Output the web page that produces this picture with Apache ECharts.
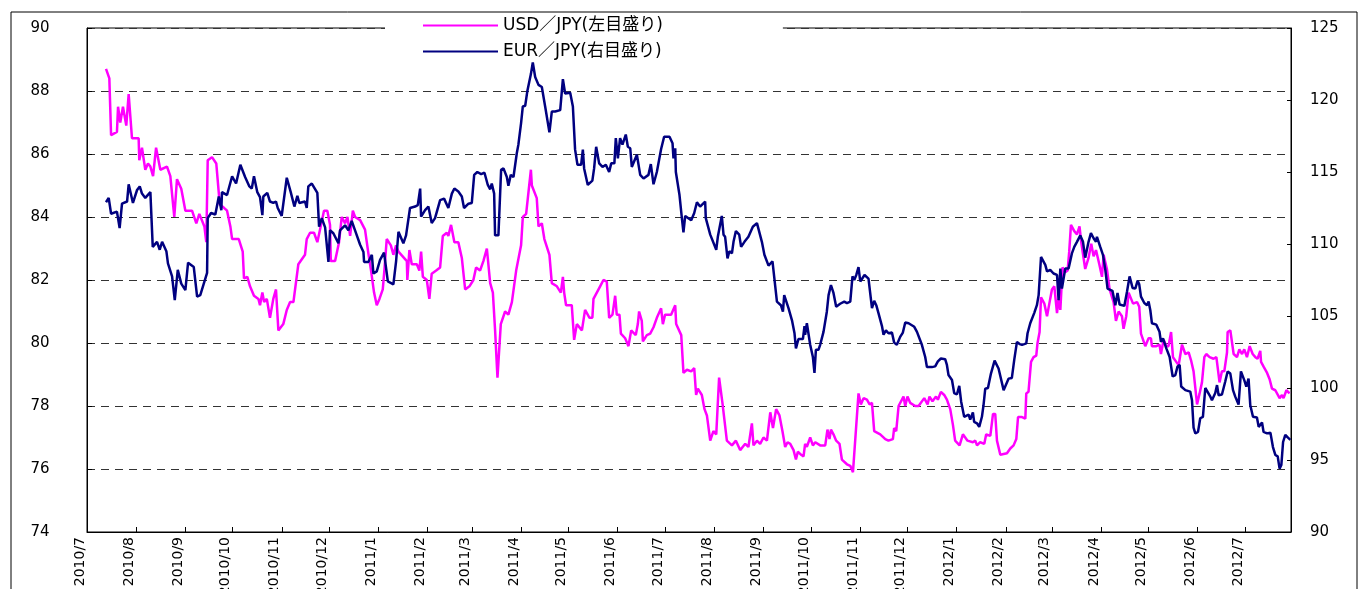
<!DOCTYPE html>
<html>
<head>
<meta charset="utf-8">
<script src="https://cdn.jsdelivr.net/npm/echarts@6/dist/echarts.min.js"></script>
<style>
  html, body { margin: 0; padding: 0; background: #fff; }
  #chart { width: 1359px; height: 589px; }
</style>
</head>
<body>
<div id="chart"></div>
<script>
// month tick labels on the x axis
const monthLabels = ['2010/7','2010/8','2010/9','2010/10','2010/11','2010/12',
  '2011/1','2011/2','2011/3','2011/4','2011/5','2011/6','2011/7','2011/8','2011/9','2011/10','2011/11','2011/12',
  '2012/1','2012/2','2012/3','2012/4','2012/5','2012/6','2012/7'];

// [days since 2010/7/1, rate]
const usdJpy = [
  [12.0,88.7],[14.1,88.4],[15.2,86.6],[18.9,86.7],[19.6,87.5],[21.0,87.0],[22.7,87.5],[24.8,86.9],[26.3,87.9],[28.4,86.5],
  [32.6,86.5],[33.0,85.8],[34.7,86.2],[36.8,85.5],[38.5,85.7],[40.0,85.6],[41.7,85.3],[43.6,86.2],[46.3,85.5],[50.5,85.6],
  [52.6,85.3],[55.1,84.0],[56.8,85.2],[59.5,84.9],[62.1,84.2],[66.3,84.2],[69.0,83.8],[70.9,84.1],[74.1,83.7],[75.3,83.2],
  [76.2,85.8],[78.9,85.9],[81.6,85.7],[83.8,84.4],[86.3,84.3],[88.4,84.2],[90.5,83.7],[91.6,83.3],[95.8,83.3],[98.3,82.9],
  [99.1,82.05],[101.2,82.1],[102.9,81.8],[105.4,81.5],[108.2,81.4],[109.2,81.2],[110.7,81.6],[111.8,81.3],[113.5,81.4],[115.5,80.8],
  [117.6,81.4],[119.3,81.7],[120.8,80.4],[123.9,80.6],[126.1,81.05],[128.2,81.3],[130.3,81.3],[133.4,82.5],[137.6,82.8],[138.7,83.3],
  [140.8,83.5],[143.3,83.5],[145.4,83.2],[147.1,83.6],[149.6,84.2],[151.7,84.2],[153.4,83.75],[153.9,82.6],[156.6,82.6],[159.1,83.2],
  [160.8,84.0],[162.9,83.8],[164.4,84.0],[166.1,83.4],[167.8,84.2],[169.2,84.0],[172.4,83.9],[175.5,83.6],[177.6,82.85],[179.3,82.3],
  [181.2,81.6],[182.9,81.2],[184.6,81.4],[186.7,81.7],[187.7,82.3],[189.2,83.3],[191.8,83.1],[193.4,82.8],[195.1,83.1],[196.6,82.9],
  [201.9,82.6],[202.2,82.0],[203.5,82.95],[205.0,82.5],[208.2,82.5],[209.8,82.3],[210.9,82.9],[212.0,82.1],[214.5,82.0],[216.1,81.4],
  [217.6,82.2],[220.4,82.3],[222.9,82.4],[224.6,83.4],[227.1,83.5],[228.1,83.4],[229.8,83.75],[231.9,83.2],[234.4,83.2],[236.6,82.7],
  [238.7,81.7],[241.4,81.8],[243.9,82.0],[245.6,82.4],[248.1,82.3],[250.2,82.6],[252.4,83.0],[254.5,81.9],[256.2,81.6],[257.6,80.4],
  [259.1,78.9],[261.2,80.6],[263.9,81.0],[266.0,80.9],[268.2,81.3],[270.9,82.3],[274.0,83.1],[275.1,84.0],[277.2,84.1],[280.2,85.5],
  [280.8,85.0],[283.9,84.6],[285.0,83.7],[287.1,83.8],[288.7,83.3],[291.9,82.8],[293.4,81.9],[296.6,81.8],[299.1,81.6],[300.4,82.1],
  [301.2,81.6],[302.4,81.2],[306.0,81.2],[307.5,80.1],[309.2,80.6],[312.4,80.4],[314.4,81.05],[317.2,80.8],[319.0,80.8],[319.7,81.4],
  [321.8,81.6],[323.9,81.8],[326.0,82.0],[328.1,81.95],[329.6,80.8],[331.7,80.9],[333.4,81.5],[334.4,80.9],[336.1,80.9],[337.0,80.3],
  [339.7,80.15],[341.8,79.9],[343.5,80.4],[346.4,80.25],[347.7,80.6],[348.5,81.0],[350.2,80.7],[350.9,80.05],[353.4,80.25],[355.5,80.3],
  [357.6,80.5],[359.7,80.8],[362.4,81.1],[363.5,80.6],[364.9,80.9],[368.7,80.9],[371.3,81.2],[371.9,80.6],[375.1,80.25],[376.5,79.05],
  [378.7,79.15],[381.4,79.1],[383.3,79.2],[384.5,78.35],[385.6,78.55],[388.1,78.35],[389.8,77.9],[391.3,77.7],[393.4,76.9],[395.4,77.2],
  [397.2,77.1],[399.0,78.9],[401.1,78.1],[403.9,76.9],[407.1,76.75],[409.6,76.9],[412.3,76.6],[415.5,76.8],[417.5,76.7],[419.7,77.45],
  [420.7,76.75],[422.9,76.9],[424.9,76.8],[427.0,77.0],[429.2,76.9],[431.3,77.8],[433.0,77.3],[435.0,77.9],[437.1,77.7],[439.0,77.2],
  [440.7,76.7],[442.2,76.85],[443.9,76.8],[446.0,76.6],[447.5,76.3],[448.7,76.55],[450.8,76.45],[452.3,76.4],[453.3,76.8],[454.4,76.7],
  [456.5,77.0],[458.2,76.75],[459.7,76.85],[462.8,76.75],[466.0,76.75],[467.4,77.25],[468.7,76.95],[469.6,77.25],[471.2,77.1],[472.9,76.9],
  [475.0,76.8],[476.5,76.3],[479.7,76.15],[481.8,76.1],[483.5,75.9],[487.0,78.4],[488.5,78.05],[490.2,78.25],[492.3,78.2],[494.0,78.05],
  [495.5,78.1],[496.9,77.2],[500.7,77.1],[503.9,76.95],[505.9,76.9],[508.7,76.95],[509.5,77.3],[510.8,77.2],[512.3,78.0],[515.4,78.3],
  [516.5,78.0],[517.9,78.3],[519.6,78.1],[522.8,78.0],[524.9,78.0],[528.5,78.25],[530.6,78.05],[531.8,78.3],[533.7,78.15],[535.9,78.3],
  [537.1,78.2],[539.0,78.45],[541.1,78.35],[542.8,78.2],[544.9,77.9],[546.6,77.4],[548.0,76.9],[550.8,76.75],[552.9,77.1],[555.8,76.9],
  [559.2,76.85],[560.7,76.9],[561.8,76.75],[563.8,76.85],[566.4,76.8],[567.6,77.1],[570.2,77.05],[571.9,77.75],[573.3,77.75],[574.4,76.9],
  [576.5,76.45],[580.7,76.5],[582.8,76.65],[584.9,76.75],[586.6,76.95],[587.7,77.65],[590.2,77.65],[592.3,77.6],[592.9,78.4],[594.3,78.45],
  [595.9,79.4],[597.5,79.55],[599.2,79.6],[600.0,80.0],[601.3,80.35],[602.2,81.45],[604.3,81.25],[606.0,80.85],[608.0,81.4],[609.1,81.7],
  [610.6,81.8],[612.3,80.95],[613.3,81.4],[614.4,81.05],[615.8,82.4],[617.5,82.25],[619.0,82.3],[620.0,82.9],[621.1,83.75],[623.2,83.55],
  [624.9,83.45],[626.5,83.7],[627.6,83.2],[630.1,82.35],[632.2,82.7],[633.9,83.15],[635.4,82.75],[636.9,82.95],[639.0,82.5],[640.7,82.1],
  [641.7,82.8],[643.8,82.35],[645.5,81.7],[648.0,81.3],[649.5,80.7],[651.2,81.0],[653.3,80.85],[654.3,80.45],[656.0,80.85],[657.5,81.6],
  [660.3,81.25],[662.8,81.3],[664.2,81.15],[665.3,80.3],[668.0,79.9],[670.1,80.15],[671.6,80.15],[672.2,79.9],[675.0,79.9],[677.0,79.95],
  [677.9,79.65],[679.6,80.1],[681.3,79.9],[682.7,79.9],[684.3,80.35],[685.5,79.55],[687.6,79.4],[689.1,79.3],[691.2,79.95],[693.3,79.65],
  [695.4,79.7],[696.9,79.45],[698.5,79.1],[700.7,78.05],[702.3,78.4],[703.8,78.75],[705.3,79.55],[706.5,79.65],[708.6,79.55],[711.1,79.5],
  [712.9,79.55],[714.9,78.75],[716.4,79.1],[717.9,79.1],[719.6,79.7],[720.0,80.35],[721.7,80.4],[723.8,79.65],[725.9,79.55],[727.4,79.8],
  [729.1,79.65],[730.5,79.8],[732.2,79.55],[733.9,79.9],[735.8,79.65],[737.5,79.55],[738.9,79.5],[740.6,79.75],[741.1,79.4],[742.7,79.25],
  [744.9,79.05],[746.5,78.85],[748.0,78.55],[750.1,78.5],[752.8,78.25],[754.3,78.35],[755.3,78.25],[757.1,78.5],[759.1,78.4]
];

const eurJpy = [
  [12.0,112.9],[13.7,113.2],[15.2,112.1],[18.9,112.25],[20.6,111.1],[22.1,112.8],[25.3,112.95],[26.3,114.15],[29.0,112.85],[31.6,113.75],
  [33.3,114.0],[34.7,113.5],[36.8,113.2],[40.0,113.6],[41.5,109.8],[44.2,110.15],[45.9,109.6],[47.4,110.15],[50.1,109.5],[51.1,108.65],
  [53.7,107.75],[55.4,106.1],[57.3,108.2],[59.5,107.25],[62.1,106.8],[63.8,108.7],[67.4,108.4],[69.5,106.35],[71.5,106.45],[75.8,108.0],
  [76.2,111.8],[78.3,112.15],[81.0,112.05],[83.2,113.3],[84.8,112.35],[85.2,113.6],[88.4,113.4],[90.1,114.1],[91.6,114.7],[94.1,114.2],
  [96.8,115.5],[99.8,114.65],[102.5,114.0],[104.0,113.85],[105.4,114.7],[107.5,113.6],[109.2,113.25],[110.7,112.0],[111.3,113.3],[113.8,113.55],
  [115.5,112.95],[117.6,112.85],[119.3,112.95],[120.4,112.5],[122.9,111.95],[126.1,114.6],[128.6,113.6],[130.9,112.6],[132.8,113.35],[134.0,112.85],
  [137.6,112.95],[138.7,112.5],[139.7,114.0],[141.9,114.2],[145.4,113.55],[146.5,111.2],[148.2,111.8],[150.3,111.15],[152.4,108.75],[153.4,110.95],
  [155.5,110.75],[158.7,110.05],[159.7,110.95],[162.9,111.3],[165.0,110.95],[167.1,111.6],[169.2,110.95],[172.4,109.95],[174.5,109.45],[174.9,108.75],
  [177.6,108.75],[179.8,109.25],[180.8,107.95],[182.9,108.1],[185.0,108.9],[187.5,109.4],[189.9,107.4],[193.4,107.2],[195.1,108.8],[196.6,110.85],
  [199.7,110.05],[201.4,110.6],[203.9,112.5],[207.1,112.6],[208.8,112.7],[210.3,113.85],[210.9,111.9],[213.4,112.35],[215.5,112.6],[217.6,111.45],
  [219.7,111.8],[222.9,113.05],[225.4,113.15],[228.1,112.5],[230.3,113.5],[231.9,113.85],[234.4,113.65],[236.6,113.3],[238.0,112.5],[240.8,112.8],
  [242.9,112.85],[244.4,114.8],[246.4,115.0],[248.8,114.85],[250.9,114.95],[253.0,114.1],[254.5,113.8],[255.5,114.2],[257.0,113.5],[257.6,110.6],
  [259.7,110.6],[261.4,115.15],[262.9,115.25],[265.0,114.65],[266.0,114.05],[267.5,114.8],[269.2,114.65],[271.3,116.3],[272.3,116.9],[274.0,118.4],
  [275.1,119.55],[276.6,119.6],[278.0,120.65],[280.2,121.8],[281.4,122.6],[282.9,121.6],[285.0,121.05],[287.1,120.9],[289.2,119.55],[291.9,117.75],
  [293.4,119.2],[295.5,119.2],[298.7,119.3],[300.4,121.45],[301.8,120.45],[305.0,120.5],[306.7,119.55],[308.1,116.55],[309.6,115.5],[311.9,115.5],
  [313.0,116.55],[313.8,115.25],[316.1,114.1],[319.0,114.4],[320.1,115.25],[321.4,116.75],[323.3,115.6],[325.4,115.35],[327.5,115.5],[329.6,115.0],
  [330.9,115.6],[332.9,115.6],[333.8,117.35],[335.1,115.95],[336.5,117.35],[338.0,116.9],[340.1,117.6],[341.4,116.75],[342.9,116.65],[343.9,115.35],
  [347.1,116.2],[349.2,114.8],[351.3,114.55],[354.4,114.8],[355.9,115.55],[357.6,114.15],[359.7,115.0],[362.4,116.6],[364.3,117.45],[367.7,117.45],
  [369.6,117.0],[370.2,115.95],[371.3,116.65],[371.7,115.0],[374.0,113.4],[375.5,111.8],[376.5,110.8],[377.6,111.95],[381.4,111.65],[383.3,112.15],
  [385.0,112.9],[387.0,112.6],[390.2,112.95],[390.6,111.8],[393.4,110.65],[397.2,109.6],[398.2,110.5],[400.7,111.95],[401.8,110.65],[402.8,110.5],
  [404.3,109.0],[405.5,109.5],[407.1,109.35],[408.1,110.15],[409.6,110.9],[411.7,110.65],[412.9,109.8],[415.0,110.15],[417.5,110.5],[420.3,111.2],
  [422.9,111.45],[426.0,110.15],[427.6,109.25],[430.2,108.5],[432.7,108.8],[433.8,108.9],[435.5,106.0],[438.0,105.75],[439.3,105.3],[440.1,106.45],
  [442.8,105.55],[445.0,104.7],[446.6,103.8],[447.5,102.75],[449.1,103.4],[451.9,103.4],[452.9,104.3],[453.3,103.7],[454.4,104.5],[456.5,103.0],
  [458.2,102.15],[459.2,101.05],[460.1,102.65],[461.7,102.65],[462.8,103.0],[464.9,103.9],[467.0,105.3],[468.1,106.45],[469.6,107.15],[471.2,106.6],
  [472.9,105.65],[475.4,105.85],[478.0,106.0],[479.7,105.9],[481.8,106.0],[483.2,107.75],[484.3,107.5],[485.6,107.85],[487.0,108.4],[488.1,107.4],
  [490.8,107.85],[493.3,107.6],[495.5,105.55],[496.9,106.05],[498.2,105.75],[499.6,105.2],[501.8,104.3],[502.8,103.7],[504.3,104.0],[505.9,103.8],
  [508.1,103.85],[509.5,103.15],[511.2,103.0],[513.3,103.55],[515.0,103.85],[516.5,104.55],[518.6,104.5],[522.2,104.25],[523.9,103.9],[527.0,103.0],
  [529.1,102.15],[530.2,101.45],[533.3,101.45],[535.4,101.5],[537.1,101.85],[539.0,102.05],[541.7,102.0],[542.8,101.6],[543.8,100.9],[546.0,100.55],
  [547.4,99.65],[549.1,99.55],[550.6,100.15],[551.8,99.05],[553.7,98.0],[556.5,98.15],[557.5,97.8],[559.2,98.3],[560.0,97.65],[561.8,97.55],
  [563.2,97.3],[564.9,98.0],[565.9,98.8],[567.0,99.95],[568.7,100.0],[570.6,101.0],[572.9,101.9],[575.4,101.35],[578.6,99.85],[581.7,100.65],
  [583.8,100.7],[585.3,101.95],[587.0,103.2],[588.7,103.05],[590.2,103.0],[591.6,103.05],[592.9,103.1],[593.7,103.8],[595.4,104.5],[597.9,105.2],
  [599.6,105.75],[600.7,106.45],[602.2,109.1],[604.9,108.55],[606.0,108.1],[608.0,108.2],[610.1,107.95],[612.3,107.85],[613.3,106.1],[614.4,108.3],
  [615.4,106.9],[617.5,108.3],[619.6,108.3],[621.7,109.35],[623.2,109.8],[624.9,110.15],[627.0,110.6],[628.7,110.15],[630.1,109.05],[632.2,110.15],
  [633.7,110.75],[635.4,110.4],[636.9,110.15],[637.5,110.5],[639.6,109.8],[641.3,109.25],[642.8,108.2],[644.2,106.9],[647.3,106.75],[649.1,105.75],
  [650.5,106.6],[651.8,105.8],[654.8,105.7],[656.5,106.7],[658.1,107.75],[660.0,106.95],[661.7,106.9],[663.2,107.45],[664.2,107.2],[665.3,106.35],
  [667.4,105.9],[669.1,105.75],[670.1,106.0],[671.2,105.4],[672.2,104.5],[675.0,104.4],[677.0,103.9],[677.9,103.2],[679.2,103.45],[681.3,102.75],
  [683.4,102.15],[685.3,100.8],[687.0,100.9],[688.4,101.5],[689.7,101.6],[690.7,100.1],[693.3,99.85],[696.4,99.75],[697.5,99.15],[698.5,97.25],
  [699.6,96.85],[701.3,96.95],[702.7,97.9],[704.4,98.0],[705.9,100.0],[707.0,100.1],[709.1,99.4],[710.1,99.15],[712.2,99.65],[713.3,100.2],
  [714.3,99.5],[716.4,99.55],[718.5,100.45],[720.0,101.15],[721.7,101.0],[723.4,99.85],[724.8,99.4],[726.9,98.85],[728.4,101.15],[730.5,100.55],
  [731.8,100.1],[733.2,100.65],[734.3,98.8],[736.0,98.0],[738.5,97.95],[739.6,97.3],[741.7,97.6],[742.7,96.95],[744.9,96.85],[747.0,96.9],
  [748.6,95.9],[750.1,95.35],[751.6,95.25],[752.8,94.4],[753.9,94.65],[755.0,96.25],[756.4,96.75],[758.1,96.55],[759.6,96.4]
];

const seriesNames = ['USD／JPY(左目盛り)', 'EUR／JPY(右目盛り)'];

// x axis runs in days from 2010/7/1; month ticks are placed on the first of each month
const DAY = 86400000;
const start = Date.UTC(2010, 6, 1);
const lastDay = (Date.UTC(2012, 6, 30) - start) / DAY;
const monthTicks = monthLabels.map(s => {
  const [y, m] = s.split('/').map(Number);
  return Math.round((Date.UTC(y, m - 1, 1) - start) / DAY);
});

const chart = echarts.init(document.getElementById('chart'));
const numFont = { color: '#000', fontSize: 15, fontFamily: 'DejaVu Sans' };

chart.setOption({
  animation: false,
  backgroundColor: '#fff',
  graphic: [{
    // outer chart-area frame
    type: 'rect',
    shape: { x: 11, y: 12, width: 1346, height: 620 },
    style: { fill: 'none', stroke: '#000', lineWidth: 1 },
    silent: true
  }],
  legend: {
    orient: 'vertical',
    left: 385,
    top: 14,
    z: 1,
    padding: [3, 120, 0, 38],
    backgroundColor: '#fff',
    icon: 'rect',
    itemWidth: 75,
    itemHeight: 2,
    itemGap: 9,
    selectedMode: false,
    textStyle: { color: '#000', fontSize: 17, fontFamily: 'DejaVu Sans, Noto Sans CJK JP' },
    data: seriesNames
  },
  grid: {
    left: 87, right: 68, top: 28, bottom: 57,
    show: true, borderColor: '#000', borderWidth: 1,
    outerBoundsMode: 'none'
  },
  xAxis: {
    type: 'value',
    min: 0,
    max: lastDay,
    axisLine: { show: true, onZero: false, lineStyle: { color: '#000', width: 1 } },
    axisTick: { show: true, inside: true, length: 5, customValues: monthTicks, lineStyle: { color: '#000' } },
    axisLabel: {
      customValues: monthTicks,
      rotate: 90,
      margin: 5,
      verticalAlign: 'bottom',
      ...numFont,
      fontSize: 14,
      formatter: v => {
        const i = monthTicks.indexOf(Math.round(v));
        return i >= 0 ? monthLabels[i] : '';
      }
    },
    splitLine: { show: false }
  },
  yAxis: [{
    type: 'value',
    min: 74, max: 90, interval: 2,
    axisLine: { show: true, lineStyle: { color: '#000' } },
    axisTick: { show: true, inside: true, length: 5, lineStyle: { color: '#000' } },
    axisLabel: { ...numFont, margin: 47, align: 'center' },
    splitLine: { show: true, lineStyle: { color: '#333', type: [8, 6], width: 1 } }
  }, {
    type: 'value',
    position: 'right',
    min: 90, max: 125, interval: 5,
    axisLine: { show: true, lineStyle: { color: '#000' } },
    axisTick: { show: true, inside: true, length: 4, lineStyle: { color: '#000' } },
    axisLabel: { ...numFont, margin: 19 },
    splitLine: { show: false }
  }],
  series: [{
    name: seriesNames[0],
    type: 'line',
    yAxisIndex: 0,
    showSymbol: false,
    symbol: 'none',
    color: '#ff00ff',
    lineStyle: { color: '#ff00ff', width: 2.5 },
    data: usdJpy
  }, {
    name: seriesNames[1],
    type: 'line',
    yAxisIndex: 1,
    showSymbol: false,
    symbol: 'none',
    color: '#000080',
    lineStyle: { color: '#000080', width: 2.5 },
    data: eurJpy
  }]
});
</script>
</body>
</html>
